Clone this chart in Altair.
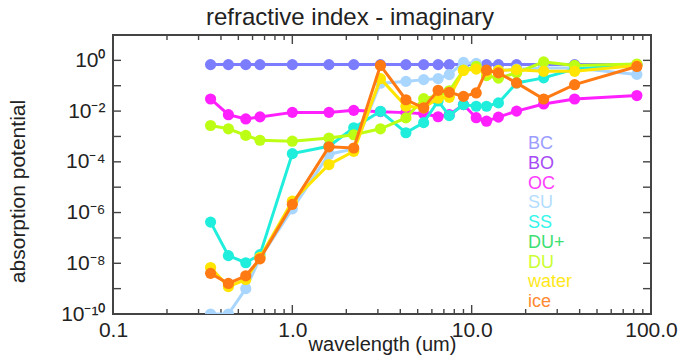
import altair as alt
import pandas as pd

FONT = "Liberation Sans"
W, H = 538, 279

# ---------------- data ----------------
wavelength = [0.35, 0.44, 0.55, 0.66, 1.0, 1.6, 2.2, 3.1, 4.3, 5.4,
              6.5, 7.5, 9.0, 10.6, 12.1, 14.1, 17.8, 25.2, 37.5, 83.4]

bc = [0.68, 0.68, 0.68, 0.68, 0.68, 0.68, 0.68, 0.68, 0.68, 0.68,
      0.68, 0.68, 0.68, 0.68, 0.68, 0.68, 0.68, 0.68, 0.68, 0.68]
oc = [3.0e-2, 7.2e-3, 4.9e-3, 5.9e-3, 8.9e-3, 8.9e-3, 1.07e-2, 9.5e-3, 8.7e-3, 7.9e-3,
      6.0e-3, 7.2e-3, 1.8e-2, 5.5e-3, 4.0e-3, 5.8e-3, 1.0e-2, 1.9e-2, 3.0e-2, 4.1e-2]
su = [1.0e-10, 1.0e-10, 1.0e-9, 1.6e-8, 1.4e-6, 2.0e-4, 3.2e-4, 0.126, 0.148, 0.174,
      0.19, 0.275, 0.83, 0.76, 0.355, 0.4, 0.45, 0.5, 0.5, 0.28]
ss = [4.2e-7, 2.0e-8, 1.05e-8, 2.2e-8, 2.1e-4, 4.1e-4, 2.2e-3, 9.8e-3, 1.4e-3, 3.5e-3,
      2.5e-2, 6.6e-3, 1.8e-2, 1.55e-2, 1.55e-2, 2.1e-2, 0.129, 0.204, 0.457, 0.676]
du = [2.7e-3, 2.0e-3, 1.1e-3, 7.1e-4, 6.5e-4, 8.7e-4, 1.17e-3, 2.0e-3, 5.4e-3, 3.1e-2,
      4.0e-2, 6.3e-2, 0.41, 0.58, 0.25, 0.2, 0.32, 0.87, 0.63, 0.72]
water = [6.8e-9, 1.2e-9, 2.3e-9, 1.7e-8, 2.8e-6, 7.8e-5, 2.6e-4, 0.19, 1.55e-2, 1.35e-2,
         3.2e-2, 3.5e-2, 0.4, 0.45, 0.355, 0.4, 0.43, 0.37, 0.37, 0.63]
ice = [4.0e-9, 1.6e-9, 3.2e-9, 1.5e-8, 2.1e-6, 3.9e-4, 3.5e-4, 0.63, 2.8e-2, 1.35e-2,
       6.6e-2, 5.5e-2, 3.8e-2, 5.2e-2, 0.41, 0.32, 0.129, 3.0e-2, 0.11, 0.575]

series_names = ["BC", "OC", "SU", "SS", "DU", "water", "ice"]
series_values = [bc, oc, su, ss, du, water, ice]
series_colors = ["#7C7CFF", "#FF1FFF", "#A9D6FF", "#1FEEDC", "#BDFF14", "#FFE500", "#FF7A12"]

legend_names = ["BC", "BO", "OC", "SU", "SS", "DU+", "DU", "water", "ice"]
legend_colors = ["#9C9CFF", "#A64BF4", "#FF3DFF", "#B3DDFF", "#33F5EA",
                 "#3BE070", "#C8FF2E", "#FFE81A", "#FF8A33"]

x_major = [0.1, 1, 10, 100]
x_major_labels = ["0.1", "1.0", "10.0", "100.0"]
x_minor = [0.2, 0.3, 0.4, 0.5, 0.6, 0.7, 0.8, 0.9,
           2, 3, 4, 5, 6, 7, 8, 9,
           20, 30, 40, 50, 60, 70, 80, 90]
y_ticks = [1e-10, 1e-9, 1e-8, 1e-7, 1e-6, 1e-5, 1e-4, 1e-3, 1e-2, 1e-1, 1e0]
y_label_exps = [0, -2, -4, -6, -8, -10]

# ---------------- helpers ----------------
SUP = {"0": "⁰", "1": "¹", "2": "²", "3": "³", "4": "⁴", "5": "⁵",
       "6": "⁶", "7": "⁷", "8": "⁸", "9": "⁹", "-": "⁻"}


def sup(n):
    return "".join(SUP[c] for c in str(n))


x_label_expr = "".join(
    f"datum.value=={v}?'{lab}':" for v, lab in zip(x_major, x_major_labels)) + "''"
y_label_expr = "".join(
    f"abs(log(datum.value)/LN10-({e}))<0.01?'10{sup(e)}':" for e in y_label_exps) + "''"

rows = []
for name, vals in zip(series_names, series_values):
    for w, v in zip(wavelength, vals):
        rows.append({"series": name, "wl": w, "k": v})
df = pd.DataFrame(rows)

xscale = alt.Scale(type="log", domain=[0.1, 100], nice=False)
yscale = alt.Scale(type="log", domain=[1e-10, 10], nice=False)

AX = dict(domain=False, grid=False, tickSize=1, tickOpacity=0,
          labelFont=FONT, labelColor="#222", titleFont=FONT, titleColor="#222",
          titleFontWeight="normal", labelOverlap=False, labelFlush=False, labelBound=False)

# the same axis definitions are given to every layer so they merge into one axis
x_axis = alt.Axis(orient="bottom", values=x_major, labelExpr=x_label_expr,
                  labelPadding=4, labelFontSize=21,
                  title="wavelength (um)", titleFontSize=20, titlePadding=-6, **AX)
y_axis = alt.Axis(orient="left", values=y_ticks, labelExpr=y_label_expr,
                  labelPadding=7, labelFontSize=21,
                  title="absorption potential", titleFontSize=21, titlePadding=32,
                  titleY=156, **AX)

# ---------------- inward tick marks (drawn through the shared scales) ----------------
TICK = dict(color="#444", strokeWidth=1.4)


def xticks(vals, y0, y1):
    return alt.Chart(pd.DataFrame({"t": vals})).mark_rule(**TICK).encode(
        x=alt.X("t:Q", scale=xscale, axis=x_axis), y=alt.value(y0), y2=alt.value(y1))


def yticks(vals, x0, x1):
    return alt.Chart(pd.DataFrame({"t": vals})).mark_rule(**TICK).encode(
        y=alt.Y("t:Q", scale=yscale, axis=y_axis), x=alt.value(x0), x2=alt.value(x1))


tick_layers = [
    xticks(x_major, H, H - 9), xticks(x_minor, H, H - 5),
    xticks(x_major, 0, 9), xticks(x_minor, 0, 5),
    yticks(y_ticks, 0, 8), yticks(y_ticks, W, W - 8),
]

layers = []
for name, col in zip(series_names, series_colors):
    base = alt.Chart(df[df.series == name])
    enc = dict(x=alt.X("wl:Q", scale=xscale, axis=x_axis),
               y=alt.Y("k:Q", scale=yscale, axis=y_axis))
    line = base.mark_line(strokeWidth=3, clip=True, color=col).encode(order="wl:Q", **enc)
    pts = base.mark_circle(size=125, opacity=1, clip=True, color=col).encode(**enc)
    layers += [line, pts]

data_layer = alt.layer(*(tick_layers + layers))

leg_df = pd.DataFrame({"name": legend_names, "col": legend_colors})
legend = alt.Chart(leg_df).mark_text(
    align="left", baseline="middle", fontSize=18, font=FONT
).encode(
    x=alt.value(415),
    y=alt.Y("name:N", sort=legend_names,
            scale=alt.Scale(type="point", range=[109, 267], padding=0), axis=None),
    color=alt.Color("col:N", scale=None),
    text="name:N",
)

chart = alt.layer(data_layer, legend).resolve_scale(
    y="independent"
).properties(
    width=W,
    height=H,
    title=alt.TitleParams("refractive index - imaginary", fontSize=24, font=FONT,
                          fontWeight="normal", color="#222", offset=4, dx=-32,
                          anchor="middle"),
    autosize=alt.AutoSizeParams(type="none"),
    padding={"left": 113, "top": 35, "right": 41, "bottom": 43},
).configure_view(stroke="#444", strokeWidth=2)

chart.save("out.html", embed_options={"renderer": "svg", "actions": False})
